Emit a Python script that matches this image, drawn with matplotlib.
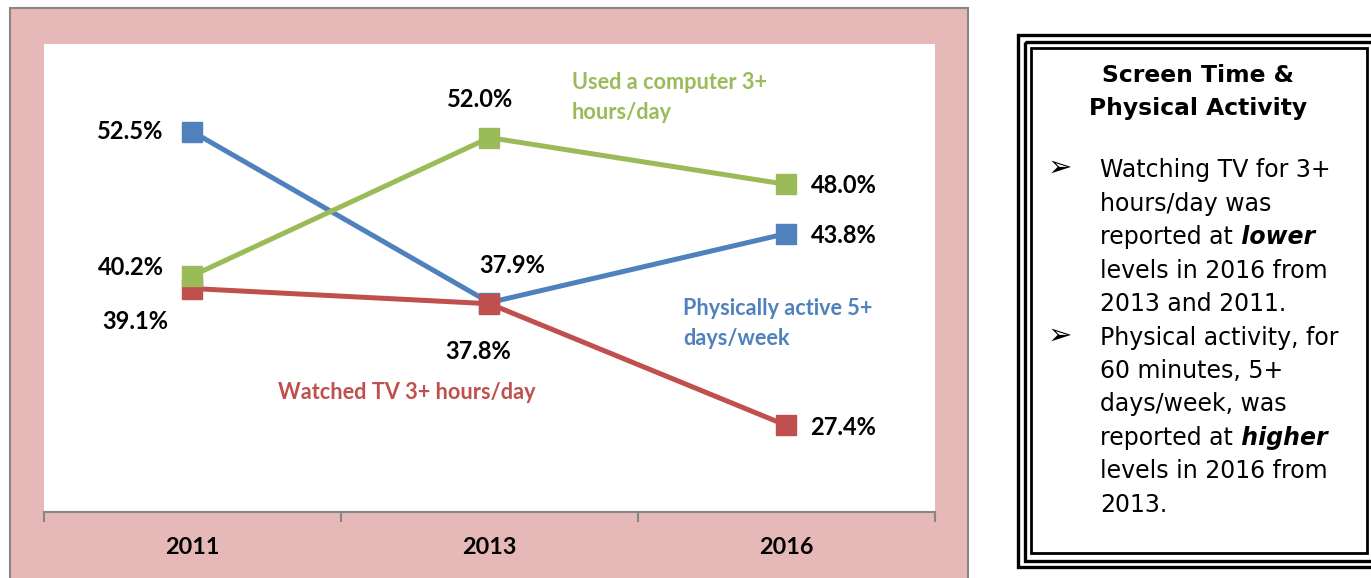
import matplotlib
matplotlib.use("Agg")
import matplotlib.pyplot as plt
from matplotlib.patches import Rectangle

# ---------------- data ----------------
years = ["2011", "2013", "2016"]
active = [52.5, 37.9, 43.8]      # Physically active 5+ days/week
tv = [39.1, 37.8, 27.4]          # Watched TV 3+ hours/day
computer = [40.2, 52.0, 48.0]    # Used a computer 3+ hours/day

series_names = ["Physically active 5+\ndays/week", "Watched TV 3+ hours/day",
                "Used a computer 3+\nhours/day"]

box_title = "Screen Time &\nPhysical Activity"
bullet1 = ["Watching TV for 3+", "hours/day was", ("reported at", " lower"),
           "levels in 2016 from", "2013 and 2011."]
bullet2 = ["Physical activity, for", "60 minutes, 5+", "days/week, was",
           ("reported at", " higher"), "levels in 2016 from", "2013."]

BLUE = "#4F81BD"
RED = "#C0504D"
GREEN = "#9BBB59"
PINK = "#E6B8B7"
GRAYLINE = "#868686"

W, H = 1371, 578
fig = plt.figure(figsize=(W / 100, H / 100), dpi=100)
fig.patch.set_facecolor("white")

# background overlay in pixel coordinates
bg = fig.add_axes([0, 0, 1, 1], zorder=0)
bg.set_xlim(0, W)
bg.set_ylim(H, 0)
bg.axis("off")

# pink chart area frame
bg.add_patch(Rectangle((10, 8), 958, 580, facecolor=PINK, edgecolor=GRAYLINE, lw=1.5))

# right text box with triple border
bg.add_patch(Rectangle((1018, 35), 380, 532, facecolor="white", edgecolor="black", lw=2.4))
bg.add_patch(Rectangle((1024.5, 41.5), 360, 519, facecolor="none", edgecolor="black", lw=2.4))
bg.add_patch(Rectangle((1031, 48), 336, 505, facecolor="none", edgecolor="black", lw=2.0))

bg.text(1198, 92, box_title, ha="center", va="center", fontsize=16.8,
        fontweight="bold", family="DejaVu Sans", linespacing=1.5)

tx = 1100
bx = 1060
base0 = 177
step = 33.5
FS = 17
lines = [(True, bullet1[0])] + [(False, l) for l in bullet1[1:]] + \
        [(True, bullet2[0])] + [(False, l) for l in bullet2[1:]]
for i, (has_bullet, line) in enumerate(lines):
    y = base0 + step * i
    if has_bullet:
        bg.text(bx, y - 9, "\u27a2", ha="center", va="center", fontsize=21,
                family="DejaVu Sans")
    if isinstance(line, tuple):
        t = bg.text(tx, y, line[0], ha="left", va="baseline", fontsize=FS,
                    family="DejaVu Sans")
        bg.annotate(line[1], xy=(1, y), xycoords=(t, "data"), ha="left",
                    va="baseline", fontsize=FS, family="DejaVu Sans",
                    fontweight="bold", fontstyle="italic")
    else:
        bg.text(tx, y, line, ha="left", va="baseline", fontsize=FS,
                family="DejaVu Sans")

# ---------------- main chart ----------------
ax = fig.add_axes([44 / W, (H - 512) / H, 891 / W, 468 / H], zorder=1)
ax.set_facecolor("white")
x = list(range(len(years)))
ax.set_xlim(-0.5, len(years) - 0.5)
ax.set_ylim(20, 60)

ax.plot(x, active, color=BLUE, lw=3.6, marker="s", ms=14.5, zorder=3)
ax.plot(x, tv, color=RED, lw=3.6, marker="s", ms=14.5, zorder=4)
ax.plot(x, computer, color=GREEN, lw=3.6, marker="s", ms=14.5, zorder=5)

for s in ["top", "right", "left"]:
    ax.spines[s].set_visible(False)
ax.spines["bottom"].set_color(GRAYLINE)
ax.spines["bottom"].set_linewidth(1.5)
ax.set_yticks([])
ax.set_xticks([-0.5, 0.5, 1.5, 2.5])
ax.set_xticklabels([])
ax.tick_params(axis="x", direction="out", length=7, width=1.5, color=GRAYLINE)
for i, yr in enumerate(years):
    ax.annotate(yr, xy=(i, 0), xycoords=("data", "axes fraction"),
                xytext=(0, -35), textcoords="offset pixels", ha="center",
                va="center", fontsize=16.8, fontweight="bold", family="Lato")

lab_kw = dict(textcoords="offset pixels", ha="center", va="center",
              fontsize=17, fontweight="bold", family="Lato", zorder=6)
offsets_active = [(-62, 0), (23, 37), (57, -2)]
offsets_tv = [(-57, -33), (-11, -48), (57, -2)]
offsets_comp = [(-62, 8), (-9, 38), (57, -1)]
for vals, offs in [(active, offsets_active), (tv, offsets_tv), (computer, offsets_comp)]:
    for i, (v, o) in enumerate(zip(vals, offs)):
        ax.annotate(f"{v:.1f}%", xy=(i, v), xytext=o, **lab_kw)

name_kw = dict(transform=ax.transAxes, ha="left", va="center", fontsize=15.6,
               fontweight="bold", family="Lato", linespacing=1.55)
ax.text(0.7172, 0.4028, series_names[0], color=BLUE, **name_kw)
ax.text(0.2626, 0.2543, series_names[1], color=RED, **name_kw)
ax.text(0.5926, 0.8857, series_names[2], color=GREEN, **name_kw)

fig.savefig("out.png", dpi=100, facecolor="white")
